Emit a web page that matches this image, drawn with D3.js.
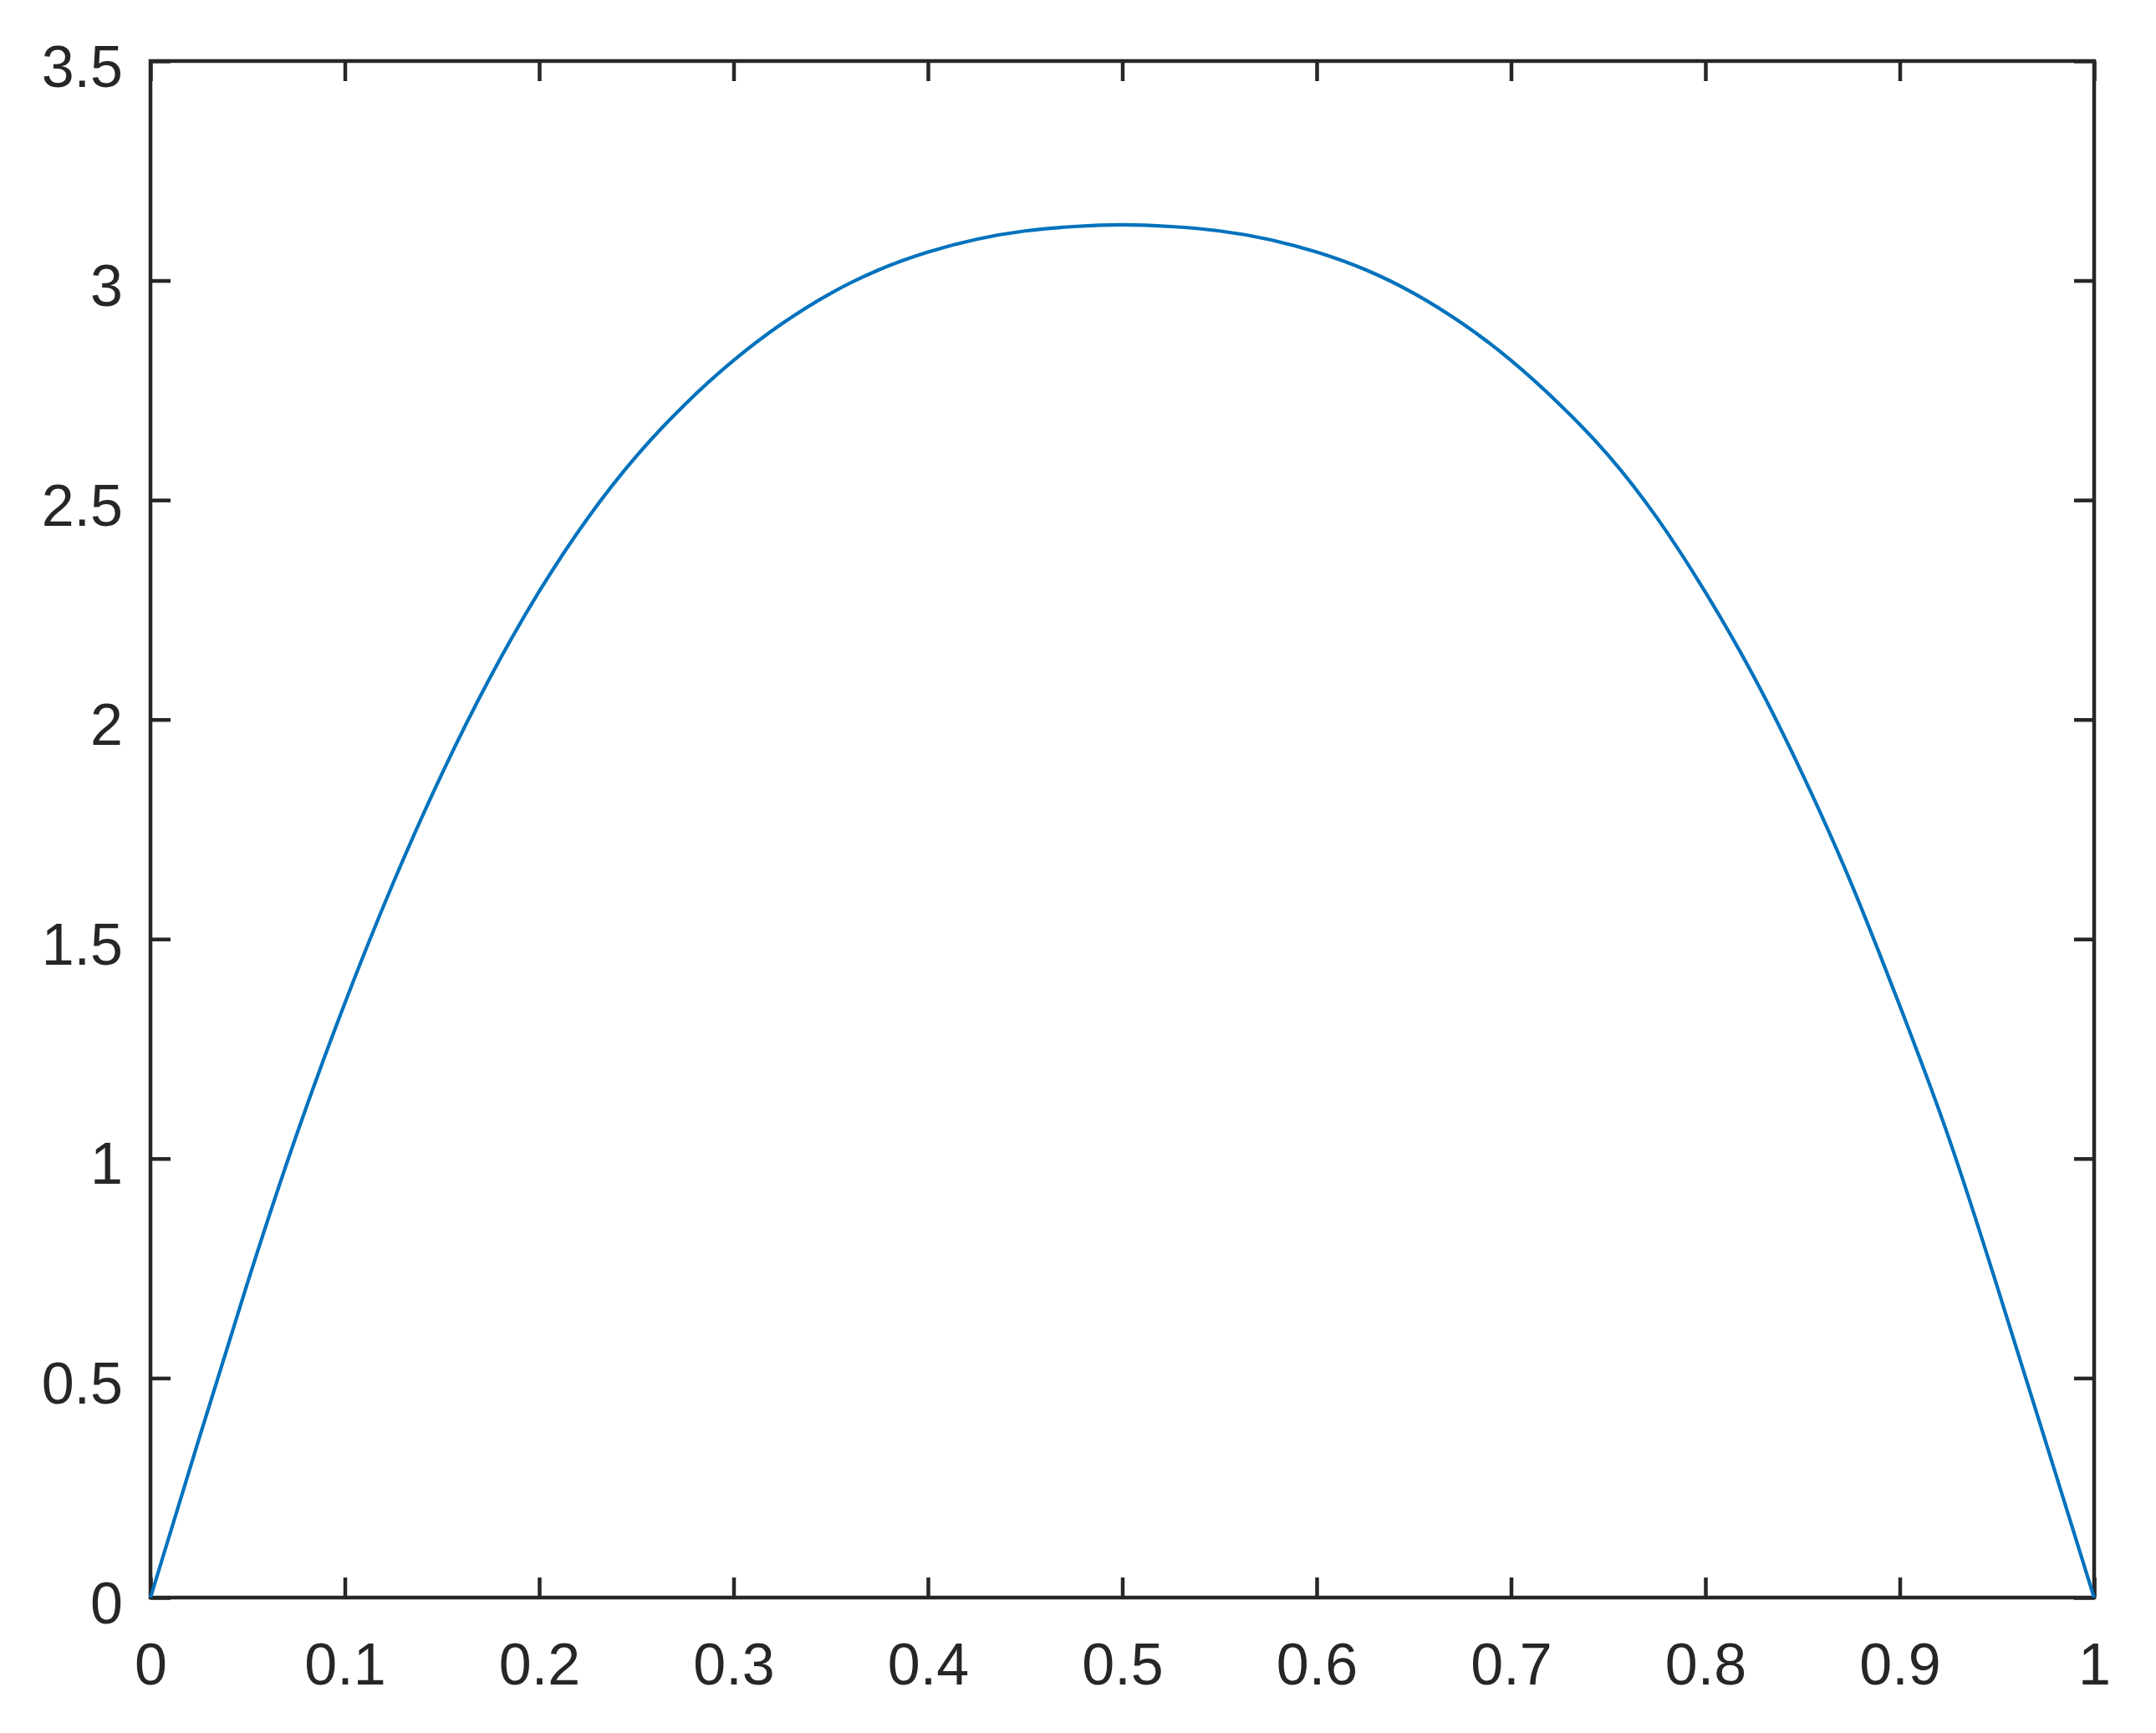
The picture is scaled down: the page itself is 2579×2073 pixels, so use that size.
<!DOCTYPE html>
<html>
<head>
<meta charset="utf-8">
<script src="https://cdn.jsdelivr.net/npm/d3@7"></script>
<style>
  body { margin: 0; background: #fff; }
  svg text { font-family: "Liberation Sans", Arial, Helvetica, sans-serif; }
</style>
</head>
<body>
<div id="chart-container"></div>
<script>
// Curve points (every 0.025 along x)
var xValues = [0, 0.025, 0.05, 0.075, 0.1, 0.125, 0.15, 0.175, 0.2, 0.225,
    0.25, 0.275, 0.3, 0.325, 0.35, 0.375, 0.4, 0.425, 0.45, 0.475,
    0.5, 0.525, 0.55, 0.575, 0.6, 0.625, 0.65, 0.675, 0.7, 0.725,
    0.75, 0.775, 0.8, 0.825, 0.85, 0.875, 0.9, 0.925, 0.95, 0.975, 1];
var yValues = [0, 0.362, 0.718, 1.052, 1.354, 1.629, 1.877, 2.098, 2.292, 2.459,
    2.600, 2.718, 2.818, 2.902, 2.971, 3.025, 3.065, 3.094, 3.113, 3.123,
    3.127, 3.123, 3.113, 3.094, 3.065, 3.025, 2.971, 2.902, 2.818, 2.718,
    2.602, 2.460, 2.290, 2.097, 1.875, 1.627, 1.348, 1.050, 0.710, 0.356, 0];

// Tick values and labels
var xTicks = [0, 0.1, 0.2, 0.3, 0.4, 0.5, 0.6, 0.7, 0.8, 0.9, 1];
var xTickLabels = ["0", "0.1", "0.2", "0.3", "0.4", "0.5", "0.6", "0.7", "0.8", "0.9", "1"];
var yTicks = [0, 0.5, 1, 1.5, 2, 2.5, 3, 3.5];
var yTickLabels = ["0", "0.5", "1", "1.5", "2", "2.5", "3", "3.5"];

var totalWidth = 2579, totalHeight = 2073;
var margin = { top: 73, right: 74, bottom: 162, left: 180 },
    width = totalWidth - margin.left - margin.right,
    height = totalHeight - margin.top - margin.bottom;

var axisColor = "#262626";
var lineColor = "#0072BD";

var svg = d3.select("#chart-container")
    .append("svg")
    .attr("width", totalWidth)
    .attr("height", totalHeight)
    .append("g")
    .attr("transform", "translate(" + margin.left + "," + margin.top + ")");

var x = d3.scaleLinear().domain([0, 1]).range([0, width]);
var y = d3.scaleLinear().domain([0, 3.5]).range([height, 0]);

function styleAxis(g) {
    g.select(".domain").remove();
    g.selectAll(".tick line").attr("stroke", axisColor).attr("stroke-width", 4.5);
    g.selectAll(".tick text").attr("fill", axisColor).style("font-size", "70px");
}

// Bottom axis with labels
svg.append("g")
    .attr("transform", "translate(0," + height + ")")
    .call(d3.axisBottom(x)
        .tickValues(xTicks)
        .tickFormat(function (d, i) { return xTickLabels[i]; })
        .tickSizeInner(-24).tickSizeOuter(0).tickPadding(54))
    .call(styleAxis);

// Top axis, ticks only
svg.append("g")
    .call(d3.axisTop(x)
        .tickValues(xTicks)
        .tickFormat("")
        .tickSizeInner(-24).tickSizeOuter(0))
    .call(styleAxis);

// Left axis with labels
svg.append("g")
    .call(d3.axisLeft(y)
        .tickValues(yTicks)
        .tickFormat(function (d, i) { return yTickLabels[i]; })
        .tickSizeInner(-24).tickSizeOuter(0).tickPadding(33))
    .call(styleAxis)
    .selectAll(".tick text").attr("dy", "0.43em");

// Right axis, ticks only
svg.append("g")
    .attr("transform", "translate(" + width + ",0)")
    .call(d3.axisRight(y)
        .tickValues(yTicks)
        .tickFormat("")
        .tickSizeInner(-24).tickSizeOuter(0))
    .call(styleAxis);

// Box
svg.append("rect")
    .attr("x", 0).attr("y", 0)
    .attr("width", width).attr("height", height)
    .attr("fill", "none")
    .attr("stroke", axisColor)
    .attr("stroke-width", 4.5);

// Curve
var line = d3.line()
    .x(function (d) { return x(d[0]); })
    .y(function (d) { return y(d[1]); })
    .curve(d3.curveNatural);

svg.append("path")
    .datum(d3.zip(xValues, yValues))
    .attr("fill", "none")
    .attr("stroke", lineColor)
    .attr("stroke-width", 4.2)
    .attr("d", line);
</script>
</body>
</html>
